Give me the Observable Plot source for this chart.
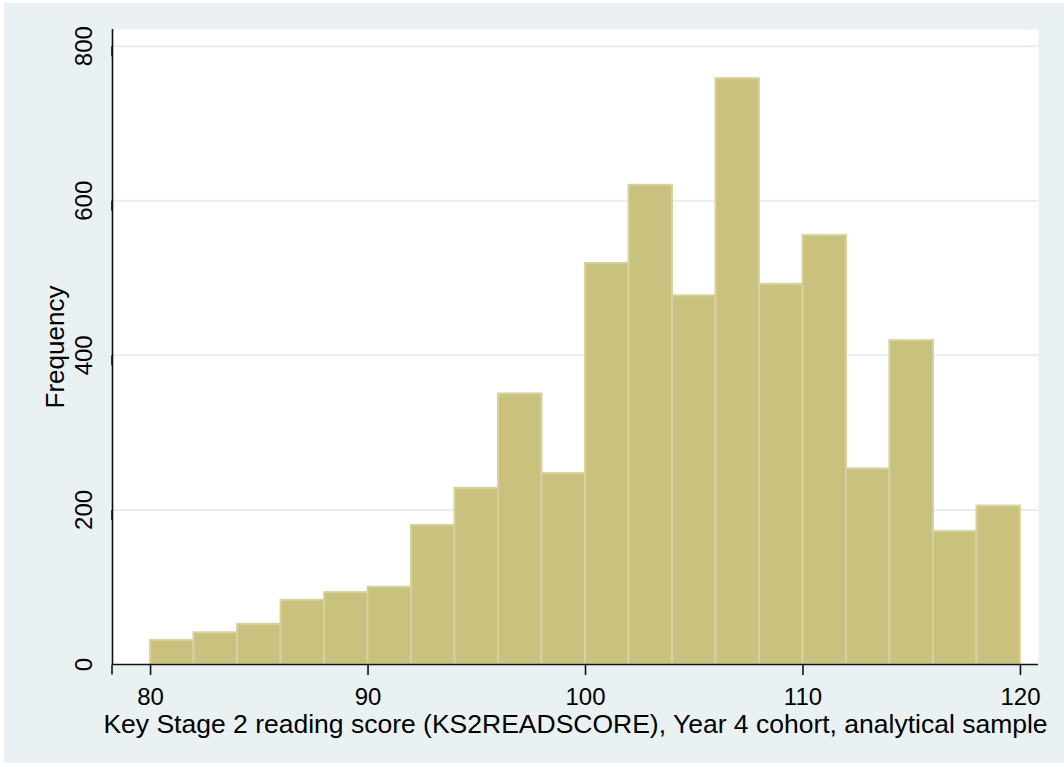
<!DOCTYPE html>
<html>
<head>
<meta charset="utf-8">
<script src="https://cdn.jsdelivr.net/npm/d3@7"></script>
<script src="https://cdn.jsdelivr.net/npm/@observablehq/plot@0.6"></script>
<style>
  html, body { margin: 0; padding: 0; background: #ffffff; }
  #panel { position: absolute; left: 4px; top: 3px; width: 1060px; height: 760px; background: #E9F1F3; }
  #panel svg { display: block; }
</style>
</head>
<body>
<div id="panel"></div>
<script>
// Histogram bin edges (KS2 reading score), width 2
const binEdges = [80, 82, 84, 86, 88, 90, 92, 94, 96, 98, 100, 102, 104, 106, 108, 110, 112, 114, 116, 118, 120];
// Frequencies per bin
const frequency = [31, 41, 52, 83, 93, 100, 180, 228, 350, 247, 519, 620, 477, 758, 492, 555, 253, 419, 172, 205];
// Tick labels
const xTicks = [80, 90, 100, 110, 120];
const yTicks = [0, 200, 400, 600, 800];
const xDomain = [78.25, 120.83];
const yDomain = [0, 821.6];
const xTitle = "Key Stage 2 reading score (KS2READSCORE), Year 4 cohort, analytical sample";
const yTitle = "Frequency";

const bins = frequency.map((f, i) => ({x1: binEdges[i], x2: binEdges[i + 1], f}));

const chart = Plot.plot({
  width: 1060,
  height: 760,
  marginLeft: 108,
  marginRight: 26,
  marginTop: 26,
  marginBottom: 99,
  style: {background: "transparent", fontFamily: "'Liberation Sans', Arial, sans-serif", color: "#000"},
  x: {domain: xDomain, label: null},
  y: {domain: yDomain, label: null},
  marks: [
    Plot.frame({fill: "white", stroke: null}),
    Plot.gridY(yTicks.filter(d => d > 0), {stroke: "#E6EEF1", strokeOpacity: 1, strokeWidth: 2}),
    Plot.rectY(bins, {x1: "x1", x2: "x2", y: "f", fill: "#C9C17E", stroke: "#D8D19C", strokeWidth: 2}),
    Plot.ruleY([yDomain[0]], {stroke: "#111", strokeWidth: 1.6}),
    Plot.ruleX([xDomain[0]], {stroke: "#111", strokeWidth: 1.6}),
    Plot.axisX(xTicks, {tickSize: 11, tickPadding: 12, fontSize: 24, stroke: "#111", strokeWidth: 1.6, label: null}),
    Plot.axisY(yTicks, {tickSize: 10, tickPadding: 11, fontSize: 24, rotate: -90, textAnchor: "middle", lineAnchor: "bottom", stroke: "#111", strokeWidth: 1.6, label: null}),
    Plot.text([yTitle], {frameAnchor: "left", rotate: -90, dx: -49, lineAnchor: "bottom", textAnchor: "middle", fontSize: 26, fill: "#000"}),
    Plot.text([xTitle], {frameAnchor: "bottom", dy: 68, lineAnchor: "bottom", textAnchor: "middle", fontSize: 26.5, fill: "#000"})
  ]
});
document.getElementById("panel").appendChild(chart);
</script>
</body>
</html>
